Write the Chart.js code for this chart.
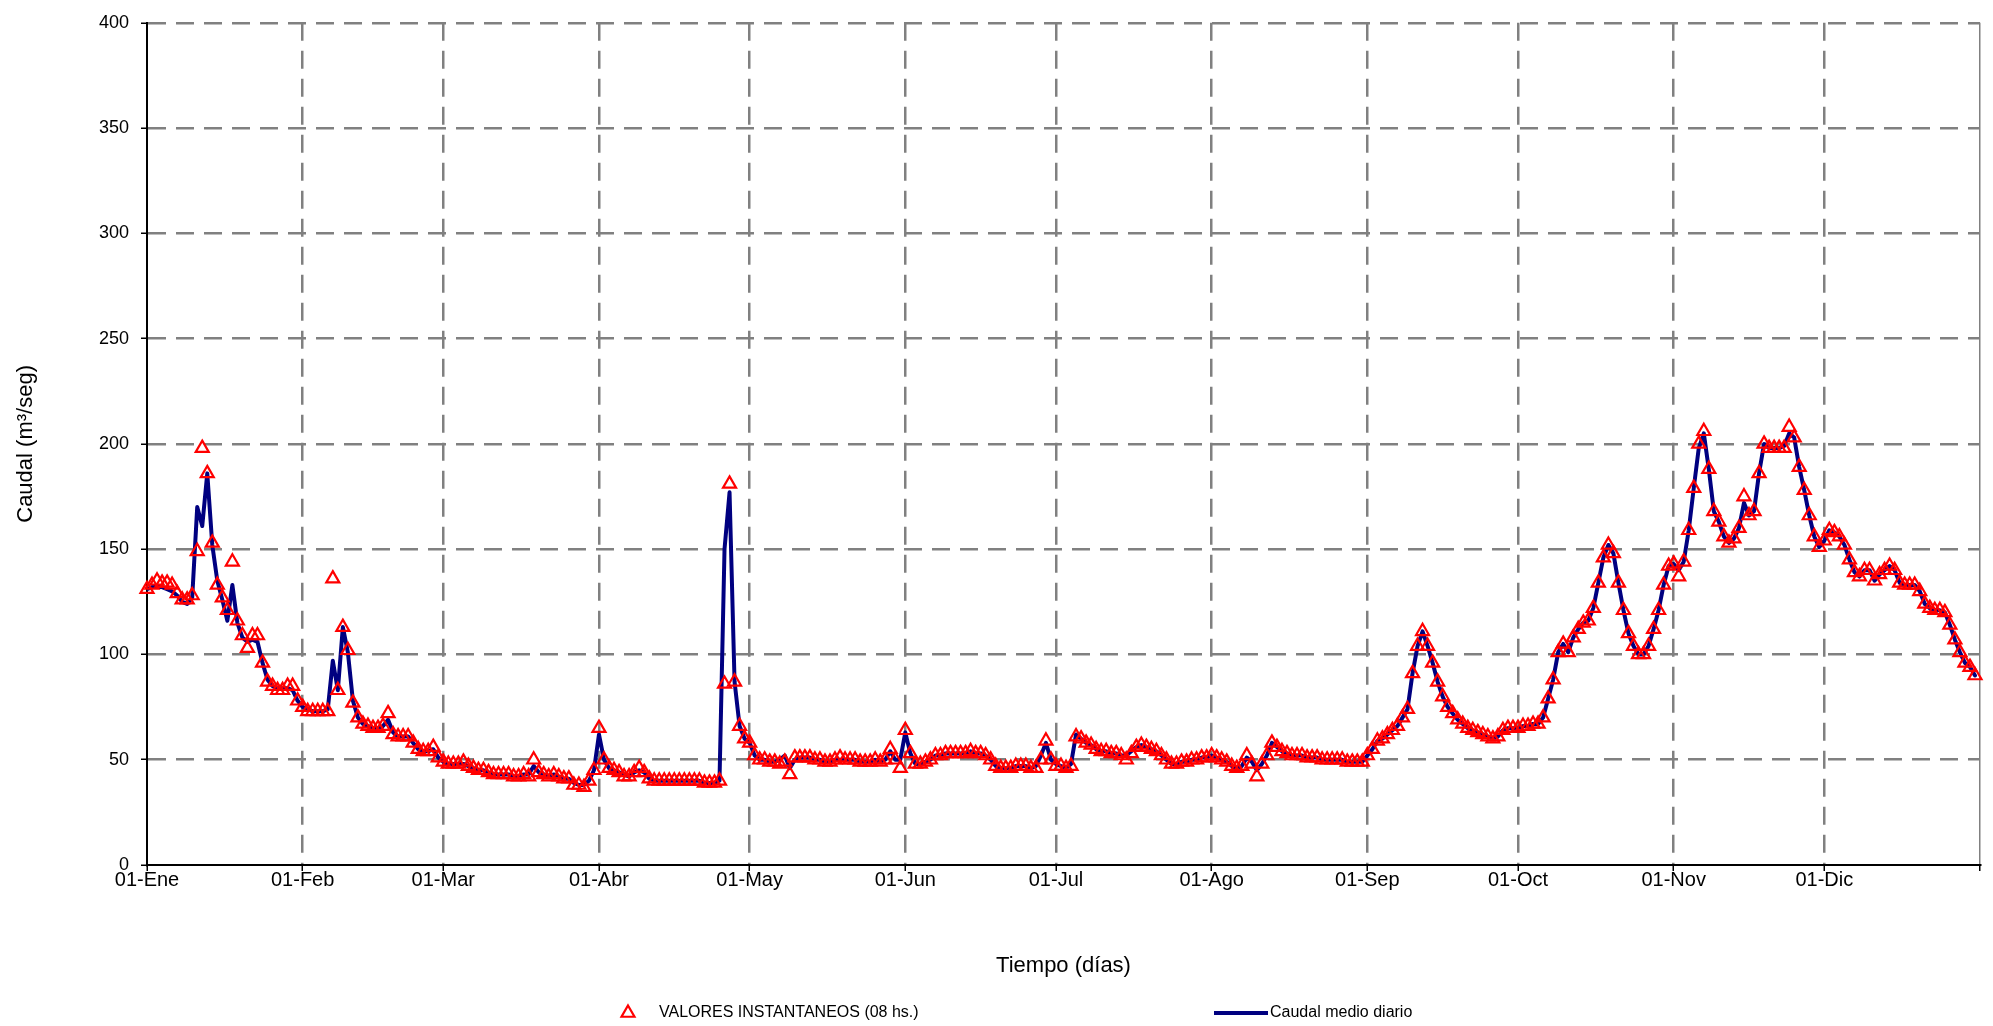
<!DOCTYPE html>
<html>
<head>
<meta charset="utf-8">
<title>Caudal</title>
<script src="https://cdn.jsdelivr.net/npm/chart.js@4.4.1/dist/chart.umd.min.js"></script>
<style>
  html, body { margin: 0; padding: 0; background: #fff; }
  #wrap { width: 1993px; height: 1026px; }
</style>
</head>
<body>
<div id="wrap"><canvas id="caudalChart" width="1993" height="1026"></canvas></div>
<script>
// dia del año en que empieza cada mes (365 = fin de año)
const inicioMes = [0, 31, 59, 90, 120, 151, 181, 212, 243, 273, 304, 334, 365];
const etiquetasMes = ['01-Ene', '01-Feb', '01-Mar', '01-Abr', '01-May', '01-Jun',
  '01-Jul', '01-Ago', '01-Sep', '01-Oct', '01-Nov', '01-Dic', ''];

// valores instantaneos (08 hs.)
const instEne = [131,133,135,134,134,133,129,126,126,128,149,198,186,153,133,127,121,144,116,109,103,109,109,96,87,85,83,83,85,85,78];
const instFeb = [75,73,73,73,73,73,136,83,113,102,77,70,67,66,65,65,66,72,62,61,61,61,58,55,54,54,56,51];
const instMar = [49,48,48,48,49,47,46,45,45,44,43,43,43,43,42,42,43,42,50,44,43,42,43,42,41,41,38,38,37,40,45];
const instAbr = [65,50,46,45,44,42,42,44,46,44,41,40,40,40,40,40,40,40,40,40,40,39,39,39,40,86,181,87,66,60];
const instMay = [58,52,50,50,49,49,48,49,43,51,51,51,51,50,50,49,49,50,51,50,50,50,49,49,49,50,49,50,55,50,46];
const instJun = [64,53,48,48,49,50,52,52,53,53,53,53,53,54,53,53,52,50,47,46,46,46,47,47,47,46,46,50,59,50];
const instJul = [47,47,46,47,61,60,58,57,55,54,54,53,53,52,50,53,56,57,56,55,54,52,50,48,48,49,49,50,50,51,51];
const instAgo = [52,51,50,49,47,46,47,52,48,42,48,52,58,56,54,53,52,52,52,51,51,51,50,50,50,50,50,49,49,49,49];
const instSep = [52,55,59,60,62,64,66,70,74,91,104,111,104,96,87,80,75,72,69,67,65,64,63,62,61,60,61,64,65,65];
const instOct = [65,66,66,67,67,70,79,88,101,105,101,108,112,115,116,122,134,146,152,148,134,121,110,104,100,100,104,112,121,133,142];
const instNov = [143,137,144,159,179,200,206,188,168,163,156,153,155,160,175,166,168,186,200,198,198,198,198,208,203,189,178,166,156,151];
const instDic = [154,159,158,156,152,145,139,137,140,140,135,138,140,142,140,134,133,133,133,130,124,122,121,121,120,114,107,101,96,94,90];

// caudal medio diario
const medioEne = [131,132,132,132,131,130,128,125,124,127,170,161,186,152,135,126,116,133,115,108,106,107,106,96,88,85,84,84,84,83,78];
const medioFeb = [75,74,73,73,73,74,97,83,113,101,78,70,67,66,65,65,66,69,63,61,61,61,58,55,54,54,55,51];
const medioMar = [49,48,48,48,48,47,46,45,45,44,43,43,43,43,42,42,43,43,47,44,43,42,43,42,41,41,39,38,38,40,45];
const medioAbr = [62,50,46,45,44,43,42,44,45,44,41,40,40,40,40,40,40,40,40,40,40,39,39,39,40,150,177,87,66,60];
const medioMay = [58,52,50,50,49,49,50,52,46,50,51,51,51,50,50,49,49,50,50,50,50,50,49,49,49,50,49,50,54,50,50];
const medioJun = [63,53,48,48,49,50,52,52,53,53,53,53,53,54,53,53,52,50,47,46,46,46,47,47,47,46,47,52,58,50];
const medioJul = [48,47,46,48,62,60,58,57,55,54,54,53,53,52,52,54,56,57,56,55,54,52,50,48,48,49,49,50,50,51,51];
const medioAgo = [52,51,50,49,47,46,47,51,49,45,48,52,58,56,54,53,52,52,52,51,51,51,50,50,50,50,50,49,49,49,49];
const medioSep = [52,55,59,60,62,64,66,70,74,91,104,111,104,96,87,80,75,72,69,67,65,64,63,62,61,60,61,64,65,65];
const medioOct = [65,66,66,67,67,70,79,88,101,105,101,108,112,115,116,122,134,146,152,148,134,121,110,104,100,100,104,112,121,133,142];
const medioNov = [143,140,144,159,179,198,205,188,168,163,156,153,155,160,172,166,168,186,200,198,198,198,199,205,203,189,178,166,156,151];
const medioDic = [154,159,158,156,152,145,139,137,140,140,135,138,140,142,140,134,133,133,133,130,124,122,121,121,120,114,107,101,96,94,90];

const instantaneos = [].concat(instEne, instFeb, instMar, instAbr, instMay, instJun,
  instJul, instAgo, instSep, instOct, instNov, instDic);
const medioDiario = [].concat(medioEne, medioFeb, medioMar, medioAbr, medioMay, medioJun,
  medioJul, medioAgo, medioSep, medioOct, medioNov, medioDic);

const toPoints = arr => arr.map((v, i) => ({ x: i, y: v }));

const FONT = "'Liberation Sans', Arial, sans-serif";
const GRID = '#808080';
const NAVY = '#000080';
const RED = '#ff0000';

// leyenda dibujada abajo, como en la planilla original
const leyenda = {
  id: 'leyenda',
  afterDraw(chart) {
    const ctx = chart.ctx;
    const y = 1013;
    ctx.save();
    // triangulo
    const x0 = 628, r = 7.5;
    ctx.beginPath();
    ctx.moveTo(x0, y - r);
    ctx.lineTo(x0 + r * Math.sin(2 * Math.PI / 3), y + r / 2);
    ctx.lineTo(x0 - r * Math.sin(2 * Math.PI / 3), y + r / 2);
    ctx.closePath();
    ctx.lineWidth = 2.2;
    ctx.strokeStyle = RED;
    ctx.stroke();
    // linea
    ctx.beginPath();
    ctx.moveTo(1214, y);
    ctx.lineTo(1268, y);
    ctx.lineWidth = 4;
    ctx.strokeStyle = NAVY;
    ctx.stroke();
    // textos
    ctx.fillStyle = '#000';
    ctx.font = '16px ' + FONT;
    ctx.textBaseline = 'middle';
    ctx.textAlign = 'left';
    ctx.fillText('VALORES INSTANTANEOS (08 hs.)', 659, y);
    ctx.fillText('Caudal medio diario', 1270, y);
    ctx.restore();
  }
};

const ctx = document.getElementById('caudalChart').getContext('2d');
new Chart(ctx, {
  type: 'line',
  data: {
    datasets: [
      {
        label: 'VALORES INSTANTANEOS (08 hs.)',
        data: toPoints(instantaneos),
        showLine: false,
        pointStyle: 'triangle',
        pointRadius: 7.5,
        pointBorderWidth: 2.2,
        pointBorderColor: RED,
        pointBackgroundColor: 'rgba(0,0,0,0)',
        clip: false
      },
      {
        label: 'Caudal medio diario',
        data: toPoints(medioDiario),
        borderColor: NAVY,
        borderWidth: 4,
        borderJoinStyle: 'round',
        borderCapStyle: 'round',
        pointRadius: 0,
        tension: 0,
        fill: false
      }
    ]
  },
  options: {
    responsive: false,
    animation: false,
    devicePixelRatio: 1,
    layout: { padding: { top: 19, right: 13, left: 0, bottom: 0 } },
    plugins: {
      legend: { display: false },
      tooltip: { enabled: false }
    },
    scales: {
      x: {
        type: 'linear',
        min: 0,
        max: 365,
        afterBuildTicks: s => { s.ticks = inicioMes.map(v => ({ value: v })); },
        afterFit: s => { s.height = 161; },
        ticks: {
          callback: (v, i) => etiquetasMes[i],
          color: '#000',
          font: { family: FONT, size: 20 },
          padding: -3,
          maxRotation: 0,
          autoSkip: false
        },
        grid: {
          color: c => c.index === 0 ? 'rgba(0,0,0,0)' : GRID,
          lineWidth: c => c.index === 12 ? 1.5 : 2.5,
          tickColor: '#000',
          tickLength: 6,
          tickWidth: 1.5
        },
        border: {
          display: true,
          color: '#000',
          width: 2,
          dash: c => c.index === 12 ? [] : [18, 10]
        },
        title: {
          display: true,
          text: 'Tiempo (días)',
          color: '#000',
          font: { family: FONT, size: 22 },
          padding: { bottom: 47 }
        }
      },
      y: {
        min: 0,
        max: 400,
        afterFit: s => { s.width = 147; },
        ticks: {
          stepSize: 50,
          color: '#000',
          font: { family: FONT, size: 18 },
          padding: 12
        },
        grid: {
          color: c => c.index === 0 ? 'rgba(0,0,0,0)' : GRID,
          lineWidth: 2.5,
          tickColor: '#000',
          tickLength: 6,
          tickWidth: 1.5
        },
        border: {
          display: true,
          color: '#000',
          width: 2,
          dash: [18, 10]
        },
        title: {
          display: true,
          text: 'Caudal (m³/seg)',
          color: '#000',
          font: { family: FONT, size: 22 },
          padding: { top: 13 }
        }
      }
    }
  },
  plugins: [leyenda]
});
</script>
</body>
</html>
